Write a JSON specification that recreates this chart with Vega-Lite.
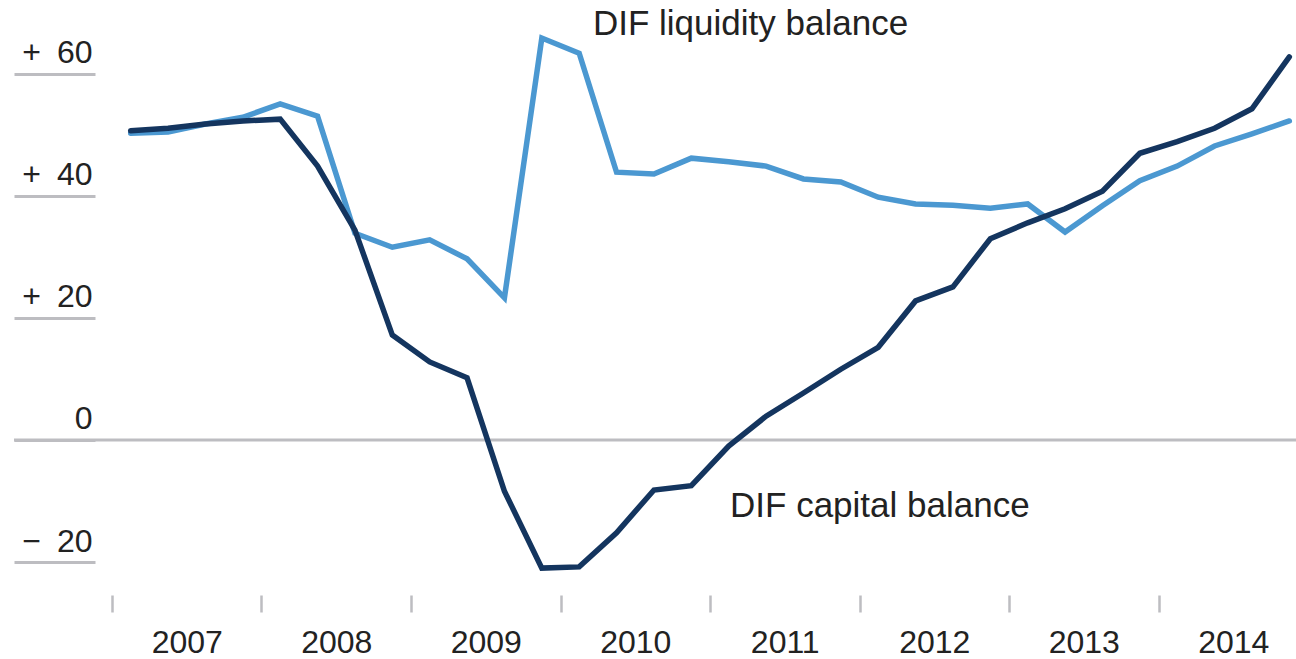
{
  "$schema": "https://vega.github.io/schema/vega-lite/v6.json",
  "width": 1282,
  "height": 590,
  "autosize": {"type": "none"},
  "padding": {"left": 14, "top": 0, "right": 0, "bottom": 69},
  "config": {"view": {"stroke": null}, "font": "Liberation Sans"},
  "datasets": {
    "liquidity": [
      {"t": 2007.125, "value": 50.3}, {"t": 2007.375, "value": 50.5}, {"t": 2007.625, "value": 51.8}, {"t": 2007.875, "value": 52.9},
      {"t": 2008.125, "value": 55.1}, {"t": 2008.375, "value": 53.1}, {"t": 2008.625, "value": 33.9}, {"t": 2008.875, "value": 31.6},
      {"t": 2009.125, "value": 32.8}, {"t": 2009.375, "value": 29.7}, {"t": 2009.625, "value": 23.3}, {"t": 2009.875, "value": 65.9},
      {"t": 2010.125, "value": 63.4}, {"t": 2010.375, "value": 43.9}, {"t": 2010.625, "value": 43.6}, {"t": 2010.875, "value": 46.2},
      {"t": 2011.125, "value": 45.6}, {"t": 2011.375, "value": 44.9}, {"t": 2011.625, "value": 42.8}, {"t": 2011.875, "value": 42.3},
      {"t": 2012.125, "value": 39.8}, {"t": 2012.375, "value": 38.7}, {"t": 2012.625, "value": 38.5}, {"t": 2012.875, "value": 38.0},
      {"t": 2013.125, "value": 38.7}, {"t": 2013.375, "value": 34.1}, {"t": 2013.625, "value": 38.4}, {"t": 2013.875, "value": 42.5},
      {"t": 2014.125, "value": 44.9}, {"t": 2014.375, "value": 48.2}, {"t": 2014.625, "value": 50.2}, {"t": 2014.875, "value": 52.3}
    ],
    "capital": [
      {"t": 2007.125, "value": 50.7}, {"t": 2007.375, "value": 51.1}, {"t": 2007.625, "value": 51.8}, {"t": 2007.875, "value": 52.3},
      {"t": 2008.125, "value": 52.6}, {"t": 2008.375, "value": 44.9}, {"t": 2008.625, "value": 34.4}, {"t": 2008.875, "value": 17.2},
      {"t": 2009.125, "value": 12.8}, {"t": 2009.375, "value": 10.2}, {"t": 2009.625, "value": -8.4}, {"t": 2009.875, "value": -21.0},
      {"t": 2010.125, "value": -20.8}, {"t": 2010.375, "value": -15.2}, {"t": 2010.625, "value": -8.2}, {"t": 2010.875, "value": -7.5},
      {"t": 2011.125, "value": -1.0}, {"t": 2011.375, "value": 3.9}, {"t": 2011.625, "value": 7.7}, {"t": 2011.875, "value": 11.6},
      {"t": 2012.125, "value": 15.2}, {"t": 2012.375, "value": 22.8}, {"t": 2012.625, "value": 25.1}, {"t": 2012.875, "value": 33.0},
      {"t": 2013.125, "value": 35.6}, {"t": 2013.375, "value": 37.9}, {"t": 2013.625, "value": 40.8}, {"t": 2013.875, "value": 47.0},
      {"t": 2014.125, "value": 48.9}, {"t": 2014.375, "value": 51.1}, {"t": 2014.625, "value": 54.3}, {"t": 2014.875, "value": 62.8}
    ],
    "labels": [
      {"t": 2010.217, "value": 66.4, "label": "DIF liquidity balance"},
      {"t": 2011.134, "value": -12.6, "label": "DIF capital balance"}
    ],
    "zero": [{"value": 0}]
  },
  "layer": [
    {
      "data": {"name": "zero"},
      "mark": {"type": "rule", "color": "#bdbdc1", "strokeWidth": 3},
      "encoding": {
        "y": {
          "field": "value", "type": "quantitative",
          "scale": {"domain": [-24.59, 72.13], "nice": false, "zero": false},
          "axis": {
            "values": [-20, 0, 20, 40, 60],
            "orient": "left", "offset": -81, "domain": false, "grid": false,
            "ticks": true, "tickSize": 81, "tickWidth": 3, "tickColor": "#bdbdc1",
            "labelPadding": -78, "labelAlign": "right", "labelBaseline": "alphabetic",
            "labelOffset": -11, "labelFontSize": 32, "labelColor": "#222222",
            "labelExpr": "datum.value > 0 ? '+\u2002' + datum.value : (datum.value < 0 ? '\u2212\u2002' + abs(datum.value) : '0')",
            "title": null
          }
        }
      }
    },
    {
      "data": {"name": "liquidity"},
      "mark": {"type": "line", "color": "#4b98d1", "strokeWidth": 5.5, "strokeCap": "round"},
      "encoding": {
        "x": {
          "field": "t", "type": "quantitative",
          "scale": {"domain": [2006.3445, 2014.9197], "nice": false, "zero": false},
          "axis": {
            "values": [2007, 2008, 2009, 2010, 2011, 2012, 2013, 2014],
            "format": "d", "domain": false, "grid": false,
            "tickSize": 17, "tickWidth": 2.5, "tickColor": "#bdbdc1", "offset": 5,
            "labelOffset": 74.75, "labelFontSize": 32, "labelColor": "#222222",
            "labelBaseline": "alphabetic", "labelPadding": 40,
            "labelFlush": false, "labelOverlap": false, "title": null
          }
        },
        "y": {"field": "value", "type": "quantitative"}
      }
    },
    {
      "data": {"name": "capital"},
      "mark": {"type": "line", "color": "#14355f", "strokeWidth": 5.5, "strokeCap": "round"},
      "encoding": {
        "x": {"field": "t", "type": "quantitative"},
        "y": {"field": "value", "type": "quantitative"}
      }
    },
    {
      "data": {"name": "labels"},
      "mark": {"type": "text", "align": "left", "baseline": "alphabetic", "fontSize": 35, "color": "#222222"},
      "encoding": {
        "x": {"field": "t", "type": "quantitative"},
        "y": {"field": "value", "type": "quantitative"},
        "text": {"field": "label"}
      }
    }
  ]
}
